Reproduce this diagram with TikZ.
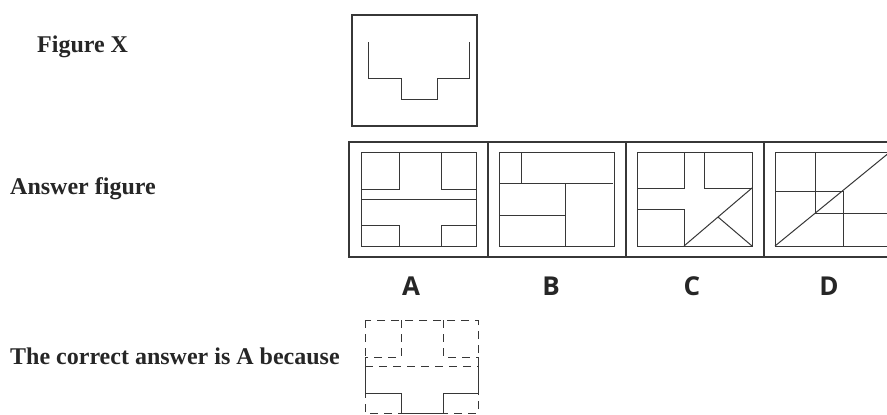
\documentclass[tikz,border=0pt]{standalone}
\usepackage{fontspec}
\setmainfont{Liberation Serif}
\newfontfamily\capsans{Open Sans}
\usepackage{tikz}
\definecolor{inkgray}{RGB}{55,55,55}

\begin{document}
\begin{tikzpicture}[x=1pt,y=-1pt,line join=miter,
  frame/.style={draw=inkgray,line width=1.4pt},
  part/.style={draw=inkgray,line width=1pt},
  ghost/.style={part,dash pattern=on 8pt off 6pt},
  caption/.style={font=\fontsize{24}{28}\selectfont\bfseries,anchor=base west,inner sep=0pt,text=black!85},
  choice/.style={font=\fontsize{26}{30}\selectfont\capsans\bfseries,anchor=base,inner sep=0pt,text=black!85}]
\clip (0,0) rectangle (887,415);
\fill[white] (0,0) rectangle (887,415);
% question figure
\node[caption] (figx) at (37,52) {Figure X};
\draw[frame] (352,15) rectangle (477,126);
\draw[part] (368,42) -- (368,78) -- (401,78) -- (401,99) -- (437,99) -- (437,78) -- (469,78) -- (469,42);
% answer strip
\node[caption] (ansfig) at (10,194) {Answer figure};
\draw[frame] (349,142) rectangle (902,257);
\foreach \xd in {488,626,764} \draw[frame] (\xd,142) -- (\xd,257);
\foreach \xl in {361,499,637,775} \draw[part] (\xl,152) rectangle ++(115,94);
% A
\draw[part] (399,152) -- (399,189) -- (361,189);
\draw[part] (441,152) -- (441,189) -- (476,189);
\draw[part] (361,199) -- (476,199);
\draw[part] (361,225) -- (399,225) -- (399,246);
\draw[part] (476,225) -- (441,225) -- (441,246);
% B
\draw[part] (521,152) -- (521,183);
\draw[part] (499,183) -- (613,183);
\draw[part] (565,183) -- (565,246);
\draw[part] (499,215) -- (565,215);
% C
\draw[part] (684,152) -- (684,188) -- (637,188);
\draw[part] (704,152) -- (704,188) -- (752,188);
\draw[part] (637,209) -- (684,209) -- (684,246);
\draw[part] (684,246) -- (752,188);
\draw[part] (718,217) -- (752,246);
% D
\draw[part] (815,152) -- (815,213) -- (890,213);
\draw[part] (775,191) -- (843,191) -- (843,246);
\draw[part] (775,246) -- (890,152);
\node[choice] (optA) at (411,295) {A};
\node[choice] (optB) at (551,295) {B};
\node[choice] (optC) at (692,295) {C};
\node[choice] (optD) at (829,295) {D};
% explanation
\node[caption] (reason) at (10,364) {The correct answer is A because};
\draw[ghost] (365,320) rectangle (478,413);
\draw[ghost] (401,320) -- (401,357) -- (365,357);
\draw[ghost] (443,320) -- (443,357) -- (478,357);
\draw[ghost] (365,366) -- (478,366);
\draw[part] (365,357) -- (365,393) -- (401,393) -- (401,413) -- (443,413) -- (443,393) -- (478,393) -- (478,357);
\end{tikzpicture}
\end{document}
